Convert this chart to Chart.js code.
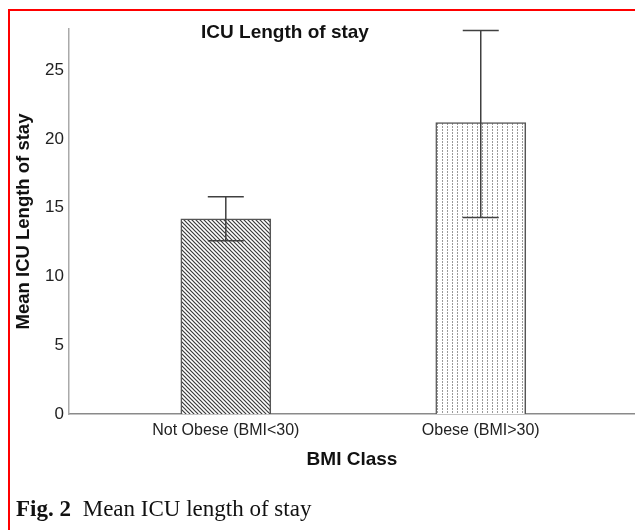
<!DOCTYPE html>
<html>
<head>
<meta charset="utf-8">
<script src="https://cdn.jsdelivr.net/npm/chart.js@4.4.0/dist/chart.umd.min.js"></script>
<style>
  body { margin: 0; background: #fff; width: 635px; height: 530px; overflow: hidden; position: relative; }
  #frame { position: absolute; left: 8px; top: 9px; width: 700px; height: 600px;
           border-top: 2px solid #ff0000; border-left: 2px solid #ff0000; }
  #wrap { position: absolute; left: 0; top: 0; width: 635px; height: 530px; }
  #caption { position: absolute; left: 16px; top: 496px; font-family: "Liberation Serif", "DejaVu Serif", serif;
             font-size: 23px; color: #111; white-space: nowrap; }
  #caption b { margin-right: 6px; }
</style>
</head>
<body>
<div id="frame"></div>
<div id="wrap"><canvas id="barChart" width="635" height="530"></canvas></div>
<div id="caption"><b>Fig. 2</b> Mean ICU length of stay</div>
<script>
const categories = ['Not Obese (BMI<30)', 'Obese (BMI>30)'];
const meanStay = [14.2, 21.2];
const errLow = [12.6, 14.3];
const errHigh = [15.8, 27.9];
const yTicks = [0, 5, 10, 15, 20, 25];

// hatch patterns like the SPSS fills
function hatchPattern() {
    let c = document.createElement('canvas');
    c.width = 4; c.height = 4;
    let g = c.getContext('2d');
    g.fillStyle = '#fff';
    g.fillRect(0, 0, 4, 4);
    g.strokeStyle = '#3a3a3a';
    g.lineWidth = 1.2;
    g.beginPath();
    g.moveTo(-1, -1); g.lineTo(5, 5);
    g.moveTo(-1, 3); g.lineTo(1, 5);
    g.moveTo(3, -1); g.lineTo(5, 1);
    g.stroke();
    return g.createPattern(c, 'repeat');
}
function dotPattern() {
    let c = document.createElement('canvas');
    c.width = 5; c.height = 3;
    let g = c.getContext('2d');
    g.fillStyle = '#fff';
    g.fillRect(0, 0, 5, 3);
    g.fillStyle = '#9a9a9a';
    g.fillRect(2, 0, 1, 2);
    return g.createPattern(c, 'repeat');
}

const errorBars = {
    id: 'errorBars',
    afterDatasetsDraw(chart) {
        let ctx = chart.ctx;
        let xs = chart.scales.x, ys = chart.scales.y;
        ctx.save();
        ctx.strokeStyle = '#404040';
        ctx.lineWidth = 1.5;
        meanStay.forEach((m, i) => {
            let x = xs.getPixelForValue(i);
            let lo = ys.getPixelForValue(errLow[i]);
            let hi = ys.getPixelForValue(errHigh[i]);
            ctx.beginPath();
            ctx.moveTo(x, lo); ctx.lineTo(x, hi);
            ctx.moveTo(x - 18, lo); ctx.lineTo(x + 18, lo);
            ctx.moveTo(x - 18, hi); ctx.lineTo(x + 18, hi);
            ctx.stroke();
        });
        // chart title sits inside the plot
        ctx.fillStyle = '#111';
        ctx.font = 'bold 19px "Liberation Sans", Arial, sans-serif';
        ctx.textAlign = 'center';
        ctx.textBaseline = 'middle';
        ctx.fillText('ICU Length of stay', chart.chartArea.left + 216, 33);
        ctx.restore();
    }
};

var ctx = document.getElementById('barChart').getContext('2d');
var myChart = new Chart(ctx, {
    type: 'bar',
    data: {
        datasets: [{
            label: 'Mean ICU Length of stay',
            data: meanStay.map((m, i) => ({x: i, y: m})),
            backgroundColor: [hatchPattern(), dotPattern()],
            borderColor: '#555',
            borderWidth: 1.5,
            barThickness: 90
        }]
    },
    plugins: [errorBars],
    options: {
        responsive: false,
        animation: false,
        layout: {
            padding: {left: 0, right: 0, top: 29, bottom: 59}
        },
        scales: {
            x: {
                type: 'linear',
                offset: false,
                min: -0.615,
                max: 1.605,
                grid: {display: false, drawTicks: false},
                border: {display: true, color: '#8a8a8a', width: 1.5},
                afterBuildTicks: (axis) => {
                    axis.ticks = categories.map((c, i) => ({value: i}));
                },
                ticks: {
                    padding: 7,
                    color: '#222',
                    font: {family: '"Liberation Sans", Arial, sans-serif', size: 16},
                    callback: (v) => categories[v]
                },
                title: {
                    display: true,
                    text: 'BMI Class',
                    color: '#111',
                    padding: {top: 1, bottom: 0},
                    font: {family: '"Liberation Sans", Arial, sans-serif', size: 19, weight: 'bold'}
                }
            },
            y: {
                min: 0,
                max: 28,
                grid: {display: false, drawTicks: false},
                border: {display: true, color: '#aaa', width: 1.5},
                afterBuildTicks: (axis) => {
                    axis.ticks = yTicks.map(v => ({value: v}));
                },
                afterFit: (axis) => {
                    axis.width = 69;
                },
                ticks: {
                    padding: 5,
                    color: '#222',
                    font: {family: '"Liberation Sans", Arial, sans-serif', size: 17}
                },
                title: {
                    display: true,
                    text: 'Mean ICU Length of stay',
                    color: '#111',
                    padding: {top: 13, bottom: 0},
                    font: {family: '"Liberation Sans", Arial, sans-serif', size: 18.5, weight: 'bold'}
                }
            }
        },
        plugins: {
            legend: {display: false},
            tooltip: {enabled: false}
        }
    }
});
</script>
</body>
</html>
